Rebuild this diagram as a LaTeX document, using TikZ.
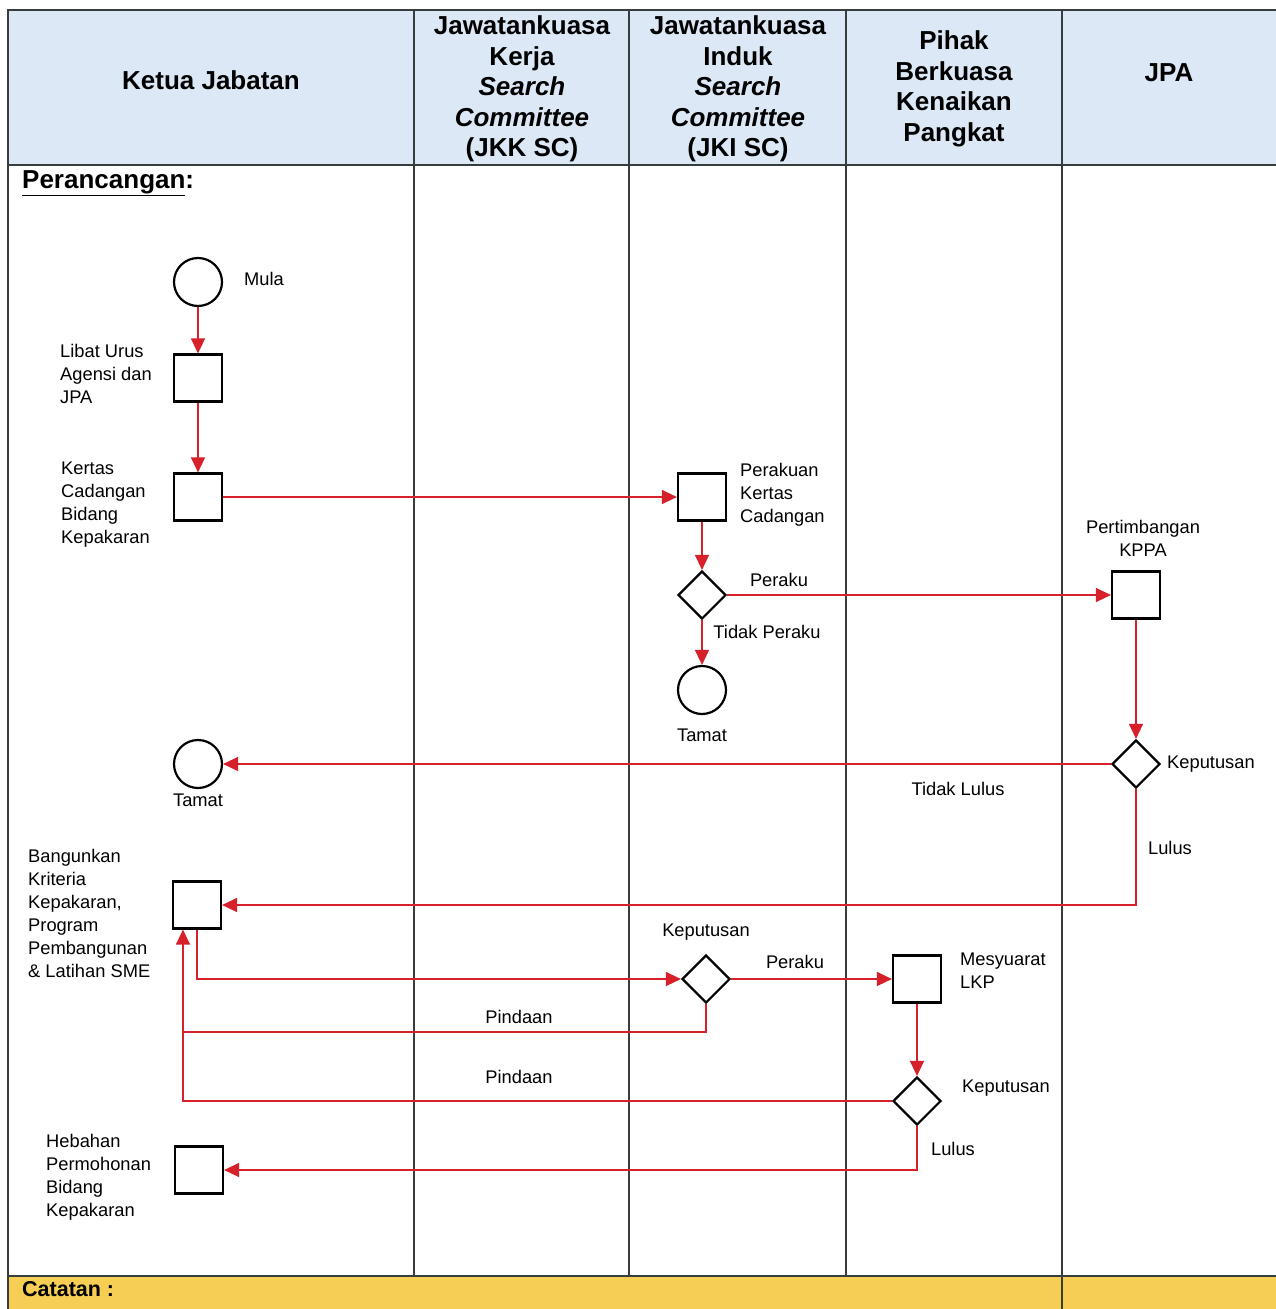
\documentclass[tikz,border=0pt]{standalone}
\usepackage{fontspec}
\setmainfont{Liberation Sans}
\usetikzlibrary{shapes.geometric,arrows.meta}
\definecolor{hdrblue}{RGB}{220,232,246}
\definecolor{noteyellow}{RGB}{246,206,84}
\definecolor{flowred}{RGB}{214,32,42}
\definecolor{gridgray}{RGB}{55,60,60}
\begin{document}
\begin{tikzpicture}[x=1pt,y=-1pt,
 grid/.style={draw=gridgray,line width=1.4pt},
 shp/.style={draw=black,line width=2.2pt,fill=white,inner sep=0pt},
 circ/.style={shp,circle,minimum size=48pt},
 box/.style={shp,rectangle,minimum width=48pt,minimum height=47pt},
 dia/.style={shp,diamond,aspect=1,minimum width=48pt,minimum height=48pt},
 conn/.style={draw=flowred,line width=1.4pt},
 arr/.style={conn,-{Triangle[length=15pt,width=14pt]}},
 hdr/.style={font=\fontsize{26}{30.5}\selectfont\bfseries,align=center,inner sep=0pt},
 lbl/.style={font=\fontsize{18.3}{23}\selectfont,align=left,inner sep=0pt},
 clbl/.style={lbl,align=center},
]
\useasboundingbox (0,0) rectangle (1276,1309);
% backgrounds
\fill[white] (0,0) rectangle (1276,1309);
\fill[hdrblue] (8,10) rectangle (1276,165);
\fill[noteyellow] (8,1276) rectangle (1276,1309);
% grid
\draw[grid] (8,1309) -- (8,10) -- (1276,10);
\draw[grid] (8,165) -- (1276,165);
\draw[grid] (8,1276) -- (1276,1276);
\draw[grid] (414,10) -- (414,1276);
\draw[grid] (629,10) -- (629,1276);
\draw[grid] (846,10) -- (846,1276);
\draw[grid] (1062,10) -- (1062,1309);
% header
\node[hdr] (h1) at (211,80) {Ketua Jabatan};
\node[hdr] (h2) at (522,89) {Jawatankuasa\\Kerja\\\textit{Search}\\\textit{Committee}\\(JKK SC)};
\node[hdr] (h3) at (738,89) {Jawatankuasa\\Induk\\\textit{Search}\\\textit{Committee}\\(JKI SC)};
\node[hdr] (h4) at (954,89) {Pihak\\Berkuasa\\Kenaikan\\Pangkat};
\node[hdr] (h5) at (1169,73) {JPA};
\node[hdr,anchor=west] (perancangan) at (22,183) {\underline{Perancangan}:};
\node[font=\fontsize{21.5}{24}\selectfont\bfseries,anchor=west,inner sep=0pt] (catatan) at (22,1289) {Catatan :};
% shapes
\node[circ] (mula) at (198,282) {};
\node[box] (libat) at (198,378) {};
\node[box] (kertas) at (198,497) {};
\node[box] (perakuan) at (702,497) {};
\node[dia] (d1) at (702,595) {};
\node[box] (kppa) at (1136,595) {};
\node[circ] (tamat1) at (702,690) {};
\node[dia] (d2) at (1136,764) {};
\node[circ] (tamat2) at (198,764) {};
\node[box] (bangun) at (197,905) {};
\node[dia] (d3) at (706,979) {};
\node[box] (lkp) at (917,979) {};
\node[dia] (d4) at (917,1101) {};
\node[box] (hebahan) at (199,1170) {};
\coordinate (p1) at (183,1032);
% connectors
\draw[arr] (mula) -- (libat);
\draw[arr] (libat) -- (kertas);
\draw[arr] (kertas) -- (perakuan);
\draw[arr] (perakuan) -- (d1);
\draw[arr] (d1) -- (kppa);
\draw[arr] (d1) -- (tamat1);
\draw[arr] (kppa) -- (d2);
\draw[arr] (d2) -- (tamat2);
\draw[arr] (d2.south) |- (bangun.east);
\draw[arr] (bangun.south) |- (d3.west);
\draw[arr] (d3) -- (lkp);
\draw[arr] (lkp) -- (d4);
\draw[conn] (d3.south) |- (p1);
\draw[arr] (d4.west) -| (bangun.south -| p1);
\draw[arr] (d4.south) |- (hebahan.east);
% labels
\node[lbl,anchor=west] (lmula) at (244,279) {Mula};
\node[lbl,anchor=west] (llibat) at (60,374) {Libat Urus\\Agensi dan\\JPA};
\node[lbl,anchor=west] (lkertas) at (61,505) {Kertas\\Cadangan\\Bidang\\Kepakaran};
\node[lbl,anchor=west] (lperakuan) at (740,495) {Perakuan\\Kertas\\Cadangan};
\node[clbl] (lperaku1) at (779,580) {Peraku};
\node[clbl] (ltidakperaku) at (767,632) {Tidak Peraku};
\node[clbl] (ltamat1) at (702,735) {Tamat};
\node[clbl] (lkppa) at (1143,538) {Pertimbangan\\KPPA};
\node[lbl,anchor=west] (lkep2) at (1167,764) {Keputusan};
\node[clbl] (ltidaklulus) at (958,789) {Tidak Lulus};
\node[clbl] (ltamat2) at (198,800) {Tamat};
\node[clbl] (llulus1) at (1170,848) {Lulus};
\node[lbl,anchor=west] (lbangun) at (28,913) {Bangunkan\\Kriteria\\Kepakaran,\\Program\\Pembangunan\\\& Latihan SME};
\node[clbl] (lkep3) at (706,932) {Keputusan};
\node[clbl] (lperaku2) at (795,962) {Peraku};
\node[lbl,anchor=west] (llkp) at (960,971) {Mesyuarat\\LKP};
\node[clbl] (lpindaan1) at (519,1017) {Pindaan};
\node[clbl] (lpindaan2) at (519,1077) {Pindaan};
\node[lbl,anchor=west] (lkep4) at (962,1088) {Keputusan};
\node[clbl] (llulus2) at (953,1149) {Lulus};
\node[lbl,anchor=west] (lhebahan) at (46,1177) {Hebahan\\Permohonan\\Bidang\\Kepakaran};
\end{tikzpicture}
\end{document}
